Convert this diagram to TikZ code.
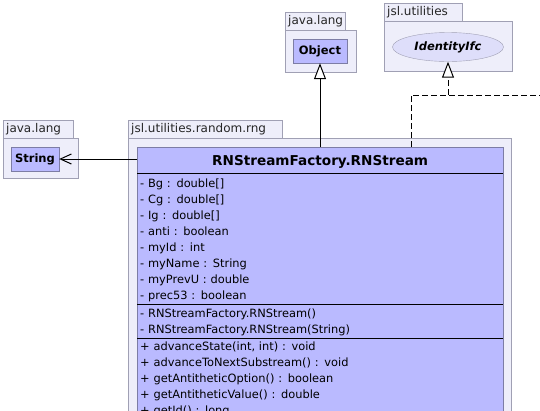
\documentclass[tikz,border=0pt]{standalone}
\usepackage{fontspec}
\setmainfont{DejaVu Sans}
\usepackage{xcolor}
\usepackage{tikz}
\usetikzlibrary{shapes,arrows.meta,positioning,calc}

\definecolor{pkgfill}{RGB}{238,238,250}
\definecolor{pkgline}{RGB}{160,160,180}
\definecolor{clsfill}{RGB}{186,186,255}
\definecolor{clsline}{RGB}{125,125,165}
\definecolor{ifcfill}{RGB}{222,222,250}

\begin{document}
\begin{tikzpicture}[x=1pt, y=-1pt, >=Latex]
    % Styles
    \tikzstyle{pkgbody} = [rectangle, draw=pkgline, fill=pkgfill, anchor=north west, inner sep=0pt]
    \tikzstyle{pkgtab} = [pkgbody, font=\fontsize{12}{14}\selectfont, text=black!85, inner xsep=3pt, text height=9pt, text depth=3pt, minimum height=18pt, align=left]
    \tikzstyle{cls} = [rectangle, draw=clsline, fill=clsfill, font=\bfseries\fontsize{11.5}{14}\selectfont, minimum height=24pt]
    \tikzstyle{ifc} = [ellipse, draw=pkgline, fill=ifcfill, font=\bfseries\itshape\fontsize{11.5}{14}\selectfont, minimum width=111pt, minimum height=29pt, inner sep=0pt]
    \tikzstyle{members} = [rectangle, fill=clsfill, anchor=north west, text width=360pt, inner xsep=3pt, inner ysep=0pt, align=left, font=\fontsize{11.4}{16}\selectfont]
    \tikzstyle{line} = [draw, line width=1pt]

    \useasboundingbox (0,0) rectangle (540,410);
    \clip (0,0) rectangle (540,410);
    \fill[white] (0,0) rectangle (540,410);

    % Nodes
    \node [pkgtab, text width=54pt] (objtab) at (285,12) {java.lang};
    \node [pkgbody, minimum width=71pt, minimum height=42pt] (objpkg) at (objtab.south west) {};
    \node [cls, minimum width=54pt] (object) at (320,51) {Object};

    \node [pkgtab, text width=72pt] (ifctab) at (384,3) {jsl.utilities};
    \node [pkgbody, minimum width=128pt, minimum height=50pt] (ifcpkg) at (ifctab.south west) {};
    \node [ifc] (identityifc) at (448,47) {IdentityIfc};

    \node [pkgtab, text width=64pt] (strtab) at (3,120) {java.lang};
    \node [pkgbody, minimum width=75pt, minimum height=40pt] (strpkg) at (strtab.south west) {};
    \node [cls, minimum width=48pt] (string) at (35,159) {String};

    \node [pkgtab, text width=148pt] (rngtab) at (128,120) {jsl.utilities.random.rng};
    \node [pkgbody, minimum width=383pt, minimum height=320pt] (rngpkg) at (rngtab.south west) {};

    \node [rectangle, fill=clsfill, anchor=north west, minimum width=366pt, minimum height=26pt, inner sep=0pt,
           text height=10pt, text depth=0pt, font=\bfseries\fontsize{13.6}{16}\selectfont] (rnstream) at (137,147) {RNStreamFactory.RNStream};
    \node [members, text height=14pt, text depth=117pt] (attrs) at (rnstream.south west) {%
        - Bg : double[]\\
        - Cg : double[]\\
        - Ig : double[]\\
        - anti : boolean\\
        - myId : int\\
        - myName : String\\
        - myPrevU : double\\
        - prec53 : boolean};
    \node [members, text height=12.5pt, text depth=20.5pt] (ctors) at (attrs.south west) {%
        - RNStreamFactory.RNStream()\\
        - RNStreamFactory.RNStream(String)};
    \node [members, text height=12pt, text depth=100pt] (methods) at (ctors.south west) {%
        + advanceState(int, int) : void\\
        + advanceToNextSubstream() : void\\
        + getAntitheticOption() : boolean\\
        + getAntitheticValue() : double\\
        + getId() : long};
    \draw [clsline, line width=1pt] (rnstream.north west) rectangle (methods.south east);
    \draw [line] (attrs.north west) -- (attrs.north east);
    \draw [line] (ctors.north west) -- (ctors.north east);
    \draw [line] (methods.north west) -- (methods.north east);

    \coordinate (bend) at (411,95);
    \coordinate (offright) at (560,95);

    % Paths
    \path [line, -{Triangle[open, fill=white, length=16pt, width=12pt]}] (object |- rnstream.north) -- (object.south);
    \path [line, dash pattern=on 6pt off 3pt] (bend |- rnstream.north) -- (bend) -- (offright);
    \path [line, dash pattern=on 6pt off 3pt, -{Triangle[open, fill=white, length=16pt, width=12pt]}] (identityifc |- bend) -- (identityifc.south);
    \path [line, -{Straight Barb[length=11pt, width=10pt]}] (rnstream.west |- string.east) -- (string.east);
\end{tikzpicture}
\end{document}
